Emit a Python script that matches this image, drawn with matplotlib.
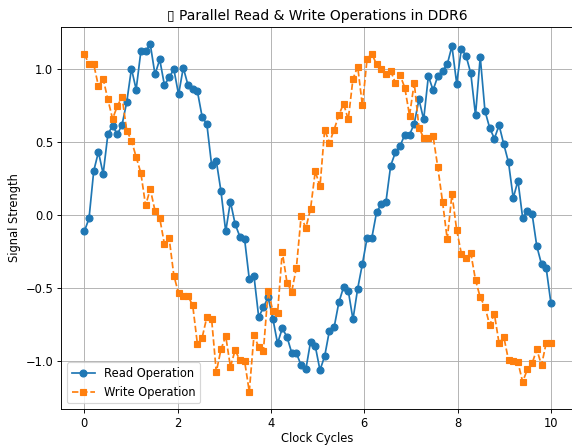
import numpy as np
import matplotlib
matplotlib.use("Agg")
import matplotlib.pyplot as plt

clock = np.linspace(0, 10, 100)

read_signal = [
    -0.114, -0.025, 0.30, 0.43, 0.28, 0.55, 0.61, 0.55, 0.615, 0.77,
    1.0, 0.857, 1.118, 1.118, 1.166, 0.96, 1.063, 0.887, 0.94, 0.995,
    0.823, 1.006, 0.887, 0.862, 0.844, 0.67, 0.62, 0.343, 0.37, 0.16,
    -0.114, 0.09, -0.064, -0.149, -0.165, -0.44, -0.42, -0.70, -0.633, -0.565,
    -0.71, -0.88, -0.777, -0.835, -0.944, -0.948, -1.029, -1.058, -0.869, -0.898,
    -1.063, -0.967, -0.793, -0.77, -0.60, -0.496, -0.519, -0.716, -0.505, -0.336,
    -0.158, -0.158, 0.016, 0.073, 0.089, 0.336, 0.427, 0.473, 0.547, 0.547,
    0.624, 0.789, 0.652, 0.949, 0.853, 0.949, 0.983, 1.029, 1.154, 0.898,
    1.136, 1.086, 0.967, 0.681, 1.081, 0.711, 0.595, 0.521, 0.613, 0.482,
    0.359, 0.114, 0.233, -0.021, 0.023, 0.007, -0.215, -0.338, -0.366, -0.606,
]

write_signal = [
    1.10, 1.029, 1.029, 0.88, 0.93, 0.789, 0.656, 0.743, 0.807, 0.576,
    0.508, 0.396, 0.286, 0.064, 0.176, 0.027, -0.023, -0.201, -0.16, -0.416,
    -0.537, -0.556, -0.556, -0.62, -0.885, -0.841, -0.70, -0.71, -1.075, -0.921,
    -0.83, -1.04, -0.926, -0.995, -0.999, -1.21, -0.823, -0.907, -0.93, -0.521,
    -0.658, -0.674, -0.252, -0.464, -0.526, -0.361, -0.011, -0.091, 0.041, 0.297,
    0.194, 0.583, 0.492, 0.583, 0.681, 0.761, 0.652, 0.93, 1.013, 0.748,
    1.068, 1.102, 1.029, 0.995, 0.965, 0.983, 0.903, 0.955, 0.869, 0.679,
    0.903, 0.595, 0.526, 0.526, 0.537, 0.325, 0.089, -0.167, 0.142, -0.103,
    -0.267, -0.297, -0.263, -0.446, -0.565, -0.629, -0.754, -0.679, -0.88, -0.835,
    -0.995, -1.001, -1.01, -1.143, -1.058, -1.017, -0.921, -1.029, -0.876, -0.876,
]

DPI = 83
fig = plt.figure(figsize=(572 / DPI, 446 / DPI), dpi=DPI)
ax = fig.add_axes([61.3 / 572, 37 / 446, 523.7 / 572, 382 / 446])

ax.plot(clock, read_signal, marker="o", linestyle="-", color="tab:blue", label="Read Operation")
ax.plot(clock, write_signal, marker="s", linestyle="--", color="tab:orange", label="Write Operation")
ax.set_xlim(-0.493, 10.73)
ax.spines["right"].set_visible(False)

ax.set_title("\u25af Parallel Read & Write Operations in DDR6", x=(317 - 61.3) / 523.7)
ax.set_xlabel("Clock Cycles", labelpad=2, x=(317 - 61.3) / 523.7)
ax.set_ylabel("Signal Strength")
ax.legend(loc="lower left")
ax.grid(True)

fig.savefig("out.png", dpi=DPI)
